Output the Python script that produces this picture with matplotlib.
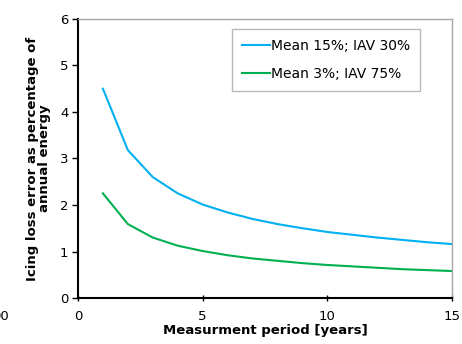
import numpy as np
import matplotlib.pyplot as plt

# measurement period in years
years = [1, 2, 3, 4, 5, 6, 7, 8, 9, 10, 11, 12, 13, 14, 15]

# icing loss error (% of annual energy)
err_mean15_iav30 = [4.50, 3.18, 2.60, 2.25, 2.01, 1.84, 1.70, 1.59, 1.50,
                    1.42, 1.36, 1.30, 1.25, 1.20, 1.16]
err_mean3_iav75 = [2.25, 1.59, 1.30, 1.125, 1.01, 0.92, 0.85, 0.80, 0.75,
                   0.71, 0.68, 0.65, 0.62, 0.60, 0.58]

labels = ["Mean 15%; IAV 30%", "Mean 3%; IAV 75%"]
colors = ["#00b0f0", "#00b050"]

plt.rcParams['font.family'] = 'DejaVu Sans'

fig = plt.figure(figsize=(4.62, 3.44), dpi=100)
ax = fig.add_axes([0.1688, 0.1337, 0.8095, 0.8111])

ax.plot(years, err_mean15_iav30, color=colors[0], lw=1.5, label=labels[0])
ax.plot(years, err_mean3_iav75, color=colors[1], lw=1.5, label=labels[1])

ax.set_xlim(0, 15)
ax.set_ylim(0, 6)
ax.set_xticks([0, 5, 10, 15])
ax.set_yticks(range(7))

for s in ['left', 'bottom']:
    ax.spines[s].set_color('black')
    ax.spines[s].set_linewidth(1.5)
for s in ['top', 'right']:
    ax.spines[s].set_color('#a6a6a6')
    ax.spines[s].set_linewidth(1.0)

ax.tick_params(axis='both', labelsize=9.5, colors='black', width=1)
ax.tick_params(axis='x', direction='inout', length=5, pad=6)
ax.tick_params(axis='y', direction='out', length=4, pad=3)

ax.set_xlabel("Measurment period [years]", fontsize=9.5, fontweight='bold',
              labelpad=1)
ax.set_ylabel("Icing loss error as percentage of\nannual energy",
              fontsize=9.5, fontweight='bold', labelpad=6, linespacing=0.95)

leg = ax.legend(loc='upper right', bbox_to_anchor=(0.914, 0.964), fontsize=10,
                frameon=True, fancybox=False, handlelength=2.0,
                handletextpad=0.1, labelspacing=1.05, borderpad=0.7,
                borderaxespad=0)
leg.get_frame().set_edgecolor('#a6a6a6')
leg.get_frame().set_linewidth(1.0)

# stray label clipped at the left edge
fig.text(9 / 462, 1 - 317 / 344, "00", fontsize=9.5, ha='right', va='center')

fig.savefig("out.png", dpi=100)
